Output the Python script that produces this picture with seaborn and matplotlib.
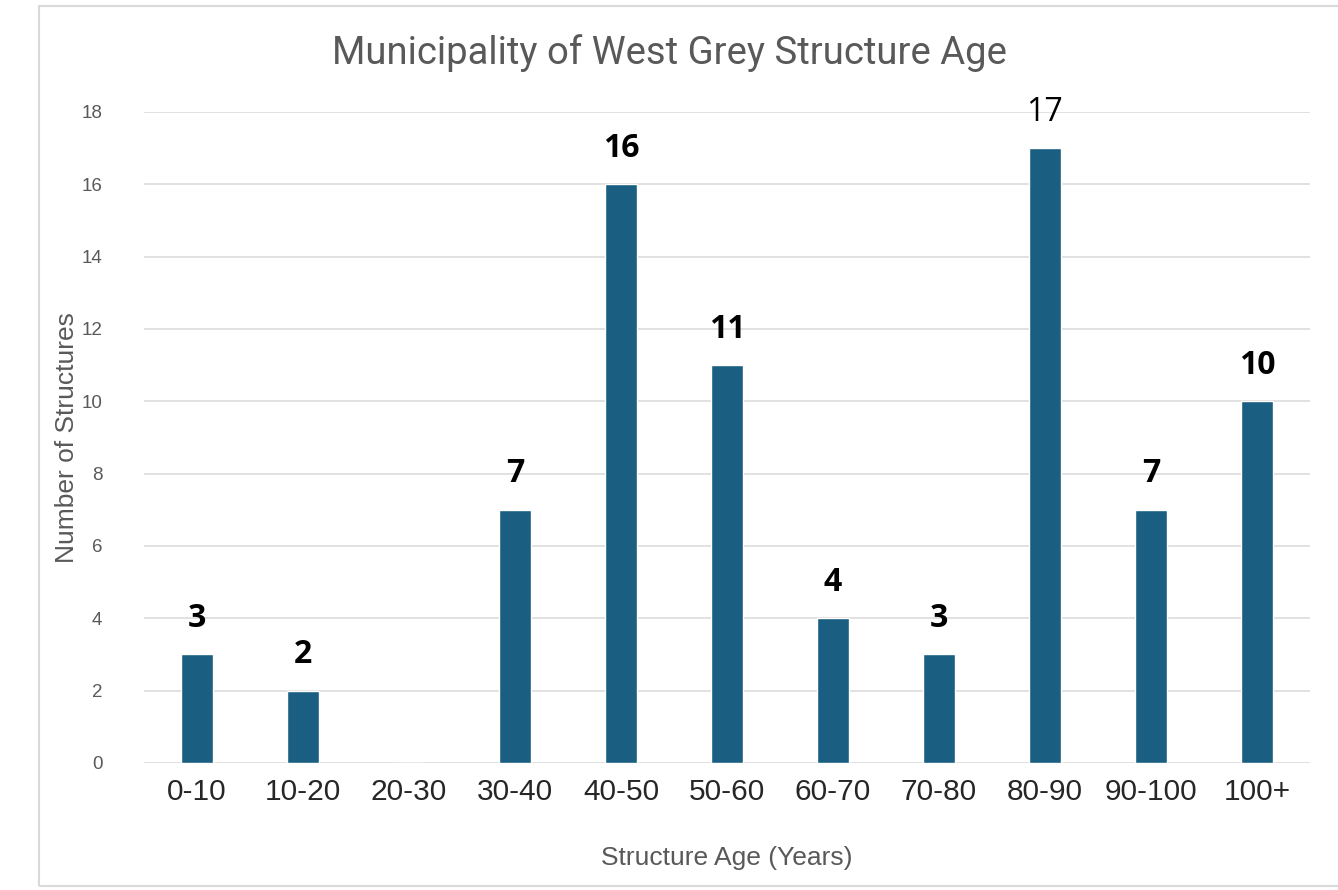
import matplotlib
matplotlib.use("Agg")
import matplotlib.pyplot as plt
import seaborn as sns
import pandas as pd
from matplotlib.patches import Rectangle

# data
age_groups = ["0-10", "10-20", "20-30", "30-40", "40-50", "50-60",
              "60-70", "70-80", "80-90", "90-100", "100+"]
structure_counts = [3, 2, 0, 7, 16, 11, 4, 3, 17, 7, 10]
y_ticks = [0, 2, 4, 6, 8, 10, 12, 14, 16, 18]

df = pd.DataFrame({"Age": age_groups, "Count": structure_counts})

sns.set_style("white")
plt.rcParams["font.family"] = ["Liberation Sans", "DejaVu Sans"]

BAR_COLOR = "#1a5f82"
GRAY = "#595959"

fig = plt.figure(figsize=(13.38, 8.9), dpi=100)
ax = fig.add_axes([0.1076, 0.1427, 0.8714, 0.7315])

sns.barplot(data=df, x="Age", y="Count", color=BAR_COLOR, width=0.3,
            saturation=1, ax=ax, zorder=3)

ax.set_xlim(-0.5, len(age_groups) - 0.5)
ax.set_ylim(0, 18)
ax.set_yticks(y_ticks)
ax.yaxis.grid(True, color="#d9d9d9", linewidth=1.1, zorder=0)
ax.set_axisbelow(True)
for s in ax.spines.values():
    s.set_visible(False)

ax.tick_params(axis="y", length=0, pad=30, labelsize=13.5, labelcolor=GRAY)
ax.tick_params(axis="x", length=0, pad=11, labelsize=21.5, labelcolor="#262626")

ax.set_xlabel("Structure Age (Years)", fontsize=19, color=GRAY)
ax.set_ylabel("Number of Structures", fontsize=19, color=GRAY)
ax.xaxis.set_label_coords(0.5, -0.128)
ax.yaxis.set_label_coords(-0.056, 0.5)
fig.text(0.5, 0.94, "Municipality of West Grey Structure Age",
         ha="center", va="center", fontsize=27.5, color=GRAY,
         family=["Roboto", "DejaVu Sans"])

# value labels (17 is not bold in the reference)
for i, v in enumerate(structure_counts):
    if v == 0:
        continue
    ax.annotate(str(v), (i, v), xytext=(0, 26), textcoords="offset points",
                ha="center", va="center", fontsize=23, color="black",
                fontweight="normal" if v == 17 else "bold",
                family=["Open Sans", "DejaVu Sans"])

# light frame around the chart area
fig.patches.append(Rectangle((0.029, 0.005), 0.975, 0.988,
                             transform=fig.transFigure, fill=False,
                             edgecolor="#d9d9d9", linewidth=1.5))

fig.savefig("out.png", dpi=100, facecolor="white")
